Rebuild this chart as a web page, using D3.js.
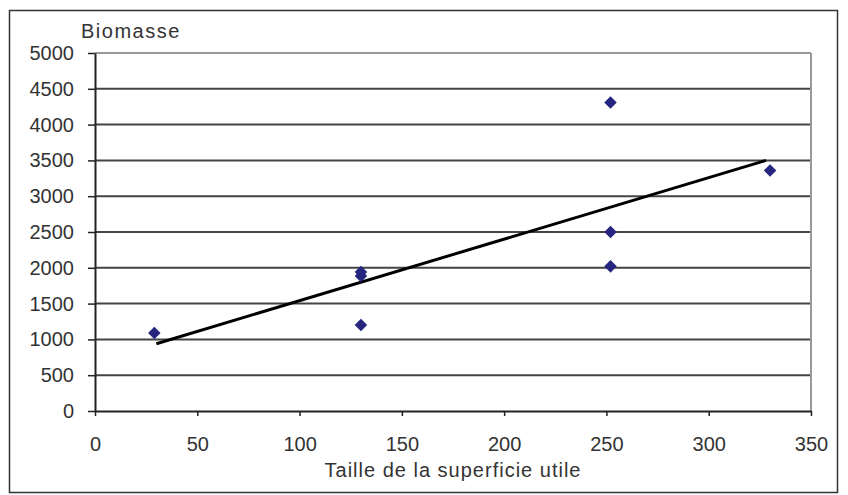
<!DOCTYPE html>
<html>
<head>
<meta charset="utf-8">
<script src="https://cdn.jsdelivr.net/npm/d3@7"></script>
<style>
  body { margin: 0; background: #fff; }
  svg { display: block; font-family: "Liberation Sans", Arial, sans-serif; }
</style>
</head>
<body>
<svg id="chart" width="848" height="495"></svg>
<script>
// data
var surface = [29, 130, 130, 130, 252, 252, 252, 330];
var biomasse = [1090, 1940, 1885, 1200, 4310, 2500, 2020, 3360];
// trend line end points
var trendX = [30, 328];
var trendY = [940, 3500];
var xTicks = [0, 50, 100, 150, 200, 250, 300, 350];
var yTicks = [0, 500, 1000, 1500, 2000, 2500, 3000, 3500, 4000, 4500, 5000];

var svg = d3.select("#chart");
var margin = {top: 53, right: 37, bottom: 84, left: 95};
var width = 848 - margin.left - margin.right,
    height = 495 - margin.top - margin.bottom;

// outer frame
svg.append("rect")
    .attr("x", 9.5).attr("y", 10.5)
    .attr("width", 828).attr("height", 482)
    .attr("fill", "none").attr("stroke", "#333").attr("stroke-width", 1.5);

var g = svg.append("g")
    .attr("transform", "translate(" + margin.left + "," + margin.top + ")");

var x = d3.scaleLinear().domain([0, 350]).range([0, width]);
var y = d3.scaleLinear().domain([0, 5000]).range([height, 0]);

// grid lines
g.selectAll("line.grid")
    .data(yTicks.filter(d => d > 0))
    .enter().append("line")
    .attr("class", "grid")
    .attr("x1", 0).attr("x2", width)
    .attr("y1", d => y(d)).attr("y2", d => y(d))
    .attr("stroke", d => d === 5000 ? "#999" : "#444")
    .attr("stroke-width", 2);

// right border of plot
g.append("line")
    .attr("x1", width).attr("x2", width)
    .attr("y1", 0).attr("y2", height)
    .attr("stroke", "#999").attr("stroke-width", 2);

// axes
var yAxis = g.append("g")
    .call(d3.axisLeft(y).tickValues(yTicks).tickFormat(d3.format("d"))
        .tickSize(7).tickPadding(14).tickSizeOuter(0));
var xAxis = g.append("g")
    .attr("transform", "translate(0," + height + ")")
    .call(d3.axisBottom(x).tickValues(xTicks).tickFormat(d3.format("d"))
        .tickSize(5).tickPadding(21).tickSizeOuter(0));

[xAxis, yAxis].forEach(a => {
    a.select(".domain").attr("stroke", "#222").attr("stroke-width", 2);
    a.selectAll(".tick line").attr("stroke", "#222").attr("stroke-width", 1.5);
    a.selectAll(".tick text")
        .style("font-size", "20px")
        .attr("fill", "#333")
        .style("font-family", "'Liberation Sans', Arial, sans-serif");
});

// trend line
g.append("line")
    .attr("x1", x(trendX[0])).attr("y1", y(trendY[0]))
    .attr("x2", x(trendX[1])).attr("y2", y(trendY[1]))
    .attr("stroke", "#000").attr("stroke-width", 3);

// points
var points = surface.map((s, i) => ({x: s, y: biomasse[i]}));
g.selectAll("path.pt")
    .data(points).enter()
    .append("path")
    .attr("class", "pt")
    .attr("d", d3.symbol().type(d3.symbolDiamond2).size(100))
    .attr("transform", d => "translate(" + x(d.x) + "," + y(d.y) + ")")
    .attr("fill", "#262680");

// titles
svg.append("text")
    .attr("x", 81).attr("y", 38)
    .style("font-size", "20px").style("letter-spacing", "1.5px").attr("fill", "#333")
    .text("Biomasse");

svg.append("text")
    .attr("x", margin.left + width / 2).attr("y", 477)
    .attr("text-anchor", "middle")
    .style("font-size", "20px").style("letter-spacing", "1px").attr("fill", "#333")
    .text("Taille de la superficie utile");
</script>
</body>
</html>
